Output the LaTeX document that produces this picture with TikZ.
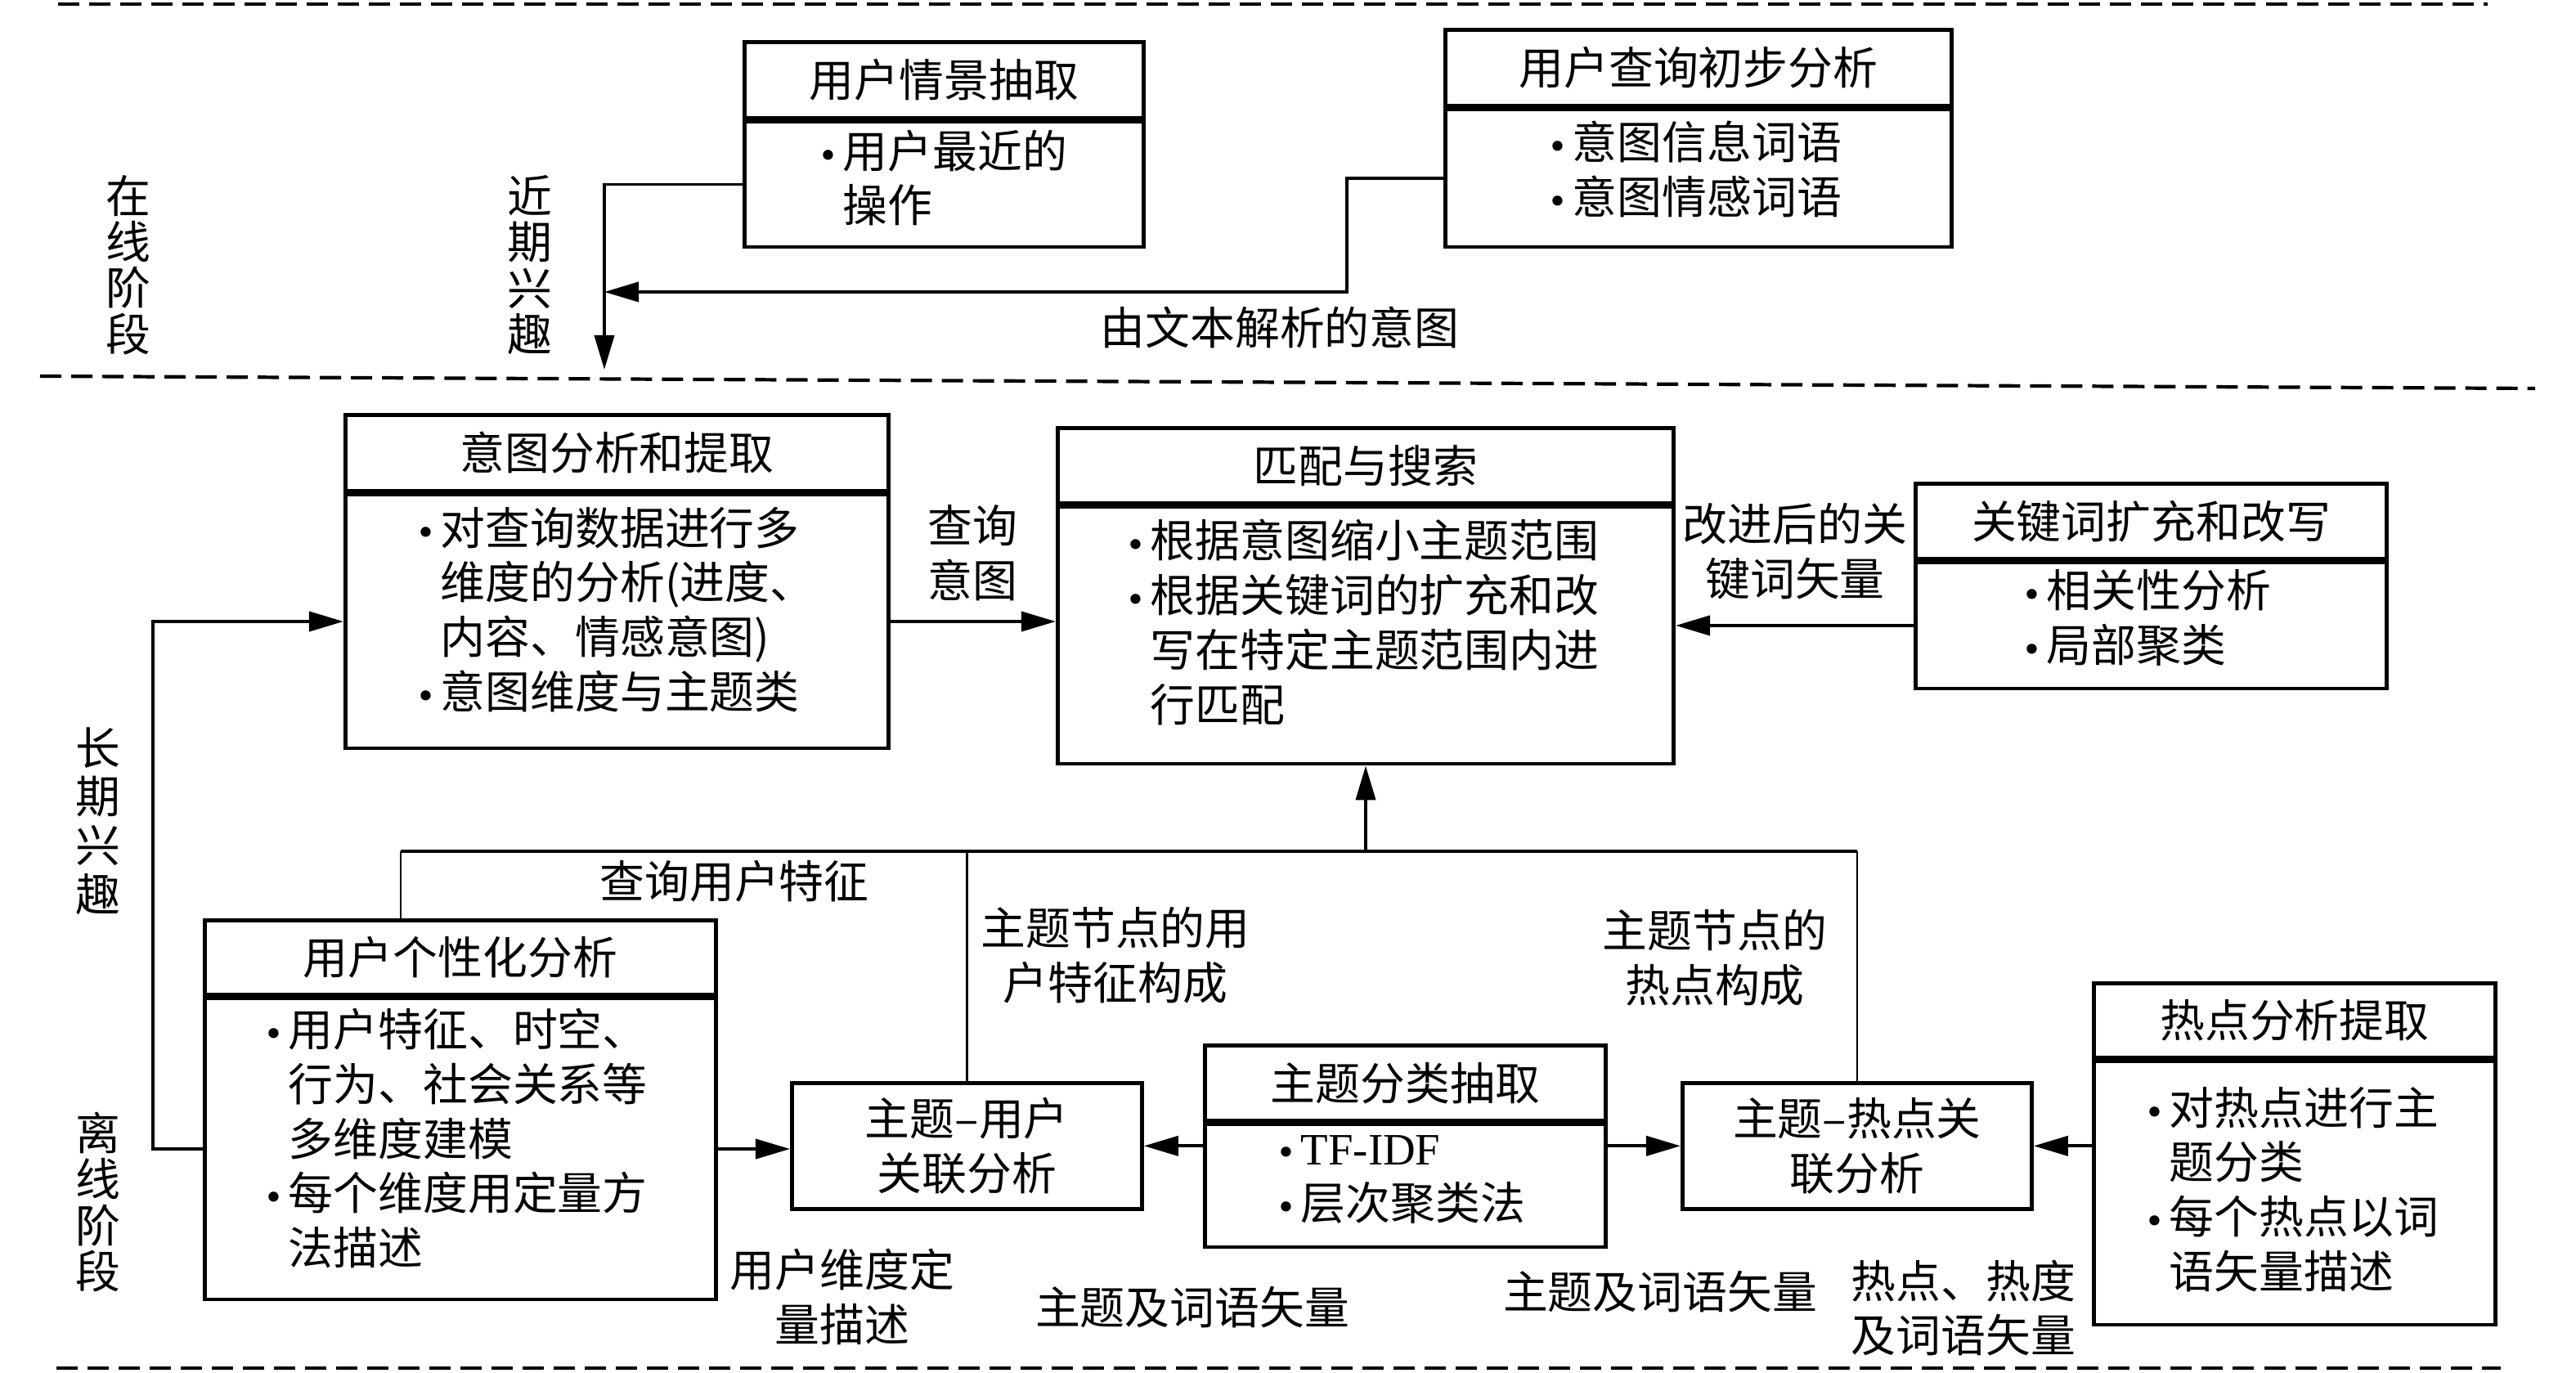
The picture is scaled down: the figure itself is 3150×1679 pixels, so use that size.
\documentclass[tikz,border=0pt]{standalone}
\usepackage{fontspec}
\setmainfont{Noto Sans CJK SC}
\newfontfamily\latf{Liberation Serif}
\newfontfamily\symf{DejaVu Sans}
\usetikzlibrary{arrows.meta}
\newcommand\bl{\makebox[0.3cm][l]{\symf\fontsize{12pt}{12pt}\selectfont •}}
\newcommand\ind{\hspace*{0.3cm}}
\begin{document}
\begin{tikzpicture}[x=0.01cm,y=-0.01cm,
  every node/.style={font=\fontsize{15.6pt}{19pt}\selectfont, inner sep=0pt},
  tbox/.style={draw, line width=1.3pt, anchor=north west},
  btxt/.style={align=left, anchor=west},
  lbl/.style={align=center},
  vlbl/.style={align=center, font=\fontsize{15.6pt}{16pt}\selectfont},
  arr/.style={line width=1.1pt, -{Triangle[length=0.42cm,width=0.24cm]}},
  ln/.style={line width=1.1pt},
  thinln/.style={line width=0.8pt},
  dsh/.style={line width=1.2pt, dash pattern=on 0.26cm off 0.12cm}]
\useasboundingbox (0,0) rectangle (3150,1679);

% dashed separators
\draw[dsh] (71,5) -- (3042,5);
\draw[dsh] (49,460) -- (3100,475);
\draw[dsh] (69,1673) -- (3058,1673);

% stage labels
\node[vlbl] (on) at (157,324) {在\\线\\阶\\段};
\node[vlbl] (rec) at (648,324) {近\\期\\兴\\趣};
\node[vlbl, font=\fontsize{15.6pt}{17pt}\selectfont] (lng) at (120,1004) {长\\期\\兴\\趣};
\node[vlbl] (off) at (120,1470) {离\\线\\阶\\段};

% A
\node[tbox, minimum width=4.88cm, minimum height=0.93cm] (At) at (908,49) {用户情景抽取};
\node[tbox, minimum width=4.88cm, minimum height=1.53cm] (Ab) at (At.south west) {};
\node[btxt] (Ax) at (1000,217.5) {\bl 用户最近的\\\ind 操作};

% B
\node[tbox, minimum width=6.19cm, minimum height=0.93cm] (Bt) at (1765,34) {用户查询初步分析};
\node[tbox, minimum width=6.19cm, minimum height=1.68cm] (Bb) at (Bt.south west) {};
\node[btxt] (Bx) at (1892,206.5) {\bl 意图信息词语\\\bl 意图情感词语};

% C
\node[tbox, minimum width=6.64cm, minimum height=0.93cm] (Ct) at (420,505) {意图分析和提取};
\node[tbox, minimum width=6.64cm, minimum height=3.10cm] (Cb) at (Ct.south west) {};
\node[btxt] (Cx) at (508,745.5) {\bl 对查询数据进行多\\\ind 维度的分析(进度、\\\ind 内容、情感意图)\\\bl 意图维度与主题类};

% D
\node[tbox, minimum width=7.53cm, minimum height=0.92cm] (Dt) at (1291,521) {匹配与搜索};
\node[tbox, minimum width=7.53cm, minimum height=3.14cm] (Db) at (Dt.south west) {};
\node[btxt] (Dx) at (1376,761) {\bl 根据意图缩小主题范围\\\bl 根据关键词的扩充和改\\\ind 写在特定主题范围内进\\\ind 行匹配};

% E
\node[tbox, minimum width=5.76cm, minimum height=0.92cm] (Et) at (2340,589) {关键词扩充和改写};
\node[tbox, minimum width=5.76cm, minimum height=1.54cm] (Eb) at (Et.south west) {};
\node[btxt] (Ex) at (2472,755.5) {\bl 相关性分析\\\bl 局部聚类};

% F
\node[tbox, minimum width=6.25cm, minimum height=0.91cm] (Ft) at (248,1123) {用户个性化分析};
\node[tbox, minimum width=6.25cm, minimum height=3.68cm] (Fb) at (Ft.south west) {};
\node[btxt] (Fx) at (322,1392) {\bl 用户特征、时空、\\\ind 行为、社会关系等\\\ind 多维度建模\\\bl 每个维度用定量方\\\ind 法描述};

% G
\node[tbox, minimum width=4.28cm, minimum height=1.54cm, align=center] (G) at (966,1322) {主题–用户\\关联分析};

% H
\node[tbox, minimum width=4.90cm, minimum height=0.92cm] (Ht) at (1471,1276) {主题分类抽取};
\node[tbox, minimum width=4.90cm, minimum height=1.50cm] (Hb) at (Ht.south west) {};
\node[btxt] (Hx) at (1560,1442.5) {\bl {\latf TF-IDF}\\\bl 层次聚类法};

% I
\node[tbox, minimum width=4.27cm, minimum height=1.54cm, align=center] (I) at (2055,1322) {主题–热点关\\联分析};

% J
\node[tbox, minimum width=4.91cm, minimum height=0.91cm] (Jt) at (2558,1200) {热点分析提取};
\node[tbox, minimum width=4.91cm, minimum height=3.22cm] (Jb) at (Jt.south west) {};
\node[btxt] (Jx) at (2622,1454.5) {\bl 对热点进行主\\\ind 题分类\\\bl 每个热点以词\\\ind 语矢量描述};

% connector labels
\node[lbl] (l1) at (1565,400) {由文本解析的意图};
\node[lbl] (l2) at (1189,676.5) {查询\\意图};
\node[lbl] (l3) at (2195,674.5) {改进后的关\\键词矢量};
\node[lbl] (l4) at (898,1078) {查询用户特征};
\node[lbl] (l5) at (1364,1168.5) {主题节点的用\\户特征构成};
\node[lbl] (l6) at (2097,1171) {主题节点的\\热点构成};
\node[lbl] (l7) at (1030,1585.5) {用户维度定\\量描述};
\node[lbl] (l8) at (1458,1599) {主题及词语矢量};
\node[lbl] (l9) at (2030,1580) {主题及词语矢量};
\node[lbl] (l10) at (2401,1599.5) {热点、热度\\及词语矢量};

% coordinates for bends
\coordinate (m1) at (739,357);
\coordinate (m2) at (739,452);
\coordinate (bB) at (1647,357);
\coordinate (busL) at (490,1041);
\coordinate (busR) at (2266,1041);

% online connectors
\draw[arr] (Ab.west) -| (m2);
\draw[arr] (Bb.west) -| (bB) -- (m1);

% offline connectors
\draw[arr] (Fb.west) -- ++(-61,0) |- (Cb.west);
\draw[arr] (Cb.east) -- (Cb.east -| Db.west);
\draw[arr] (Eb.west) -- (Eb.west -| Db.east);
\draw[ln] (busL) -- (I.north |- busL);
\draw[thinln] (busL |- Ft.north) -- (busL);
\draw[thinln] (G.north) -- (G.north |- busL);
\draw[thinln] (I.north) -- (I.north |- busL);
\draw[arr] (Db.south |- busL) -- (Db.south);
\draw[arr] (Fb.east) -- (Fb.east -| G.west);
\draw[arr] (G.east -| Hb.west) -- (G.east);
\draw[arr] (I.west -| Hb.east) -- (I.west);
\draw[arr] (I.east -| Jb.west) -- (I.east);
\end{tikzpicture}
\end{document}
